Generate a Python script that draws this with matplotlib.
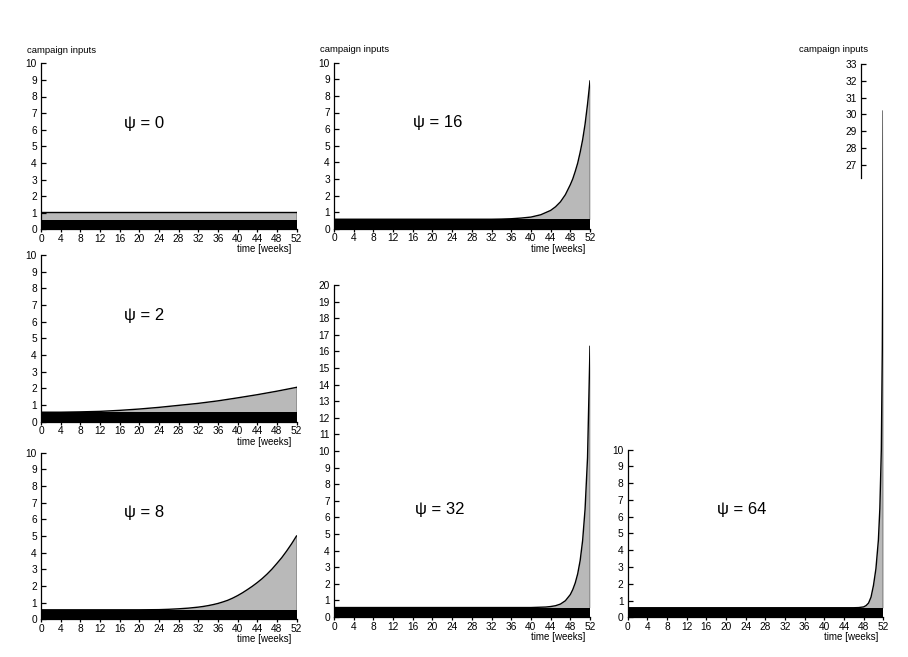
import numpy as np
import matplotlib.pyplot as plt

plt.rcParams['font.family'] = ['Liberation Sans', 'DejaVu Sans']

# time axis ticks
week_ticks = list(range(0, 53, 4))

# black base level of campaign inputs
base_level = 0.57

# campaign input curves, one per psi
weeks_psi0 = [0, 52]
u_psi0 = [1.05, 1.05]

weeks_psi2 = [0, 4, 8, 12, 16, 20, 24, 28, 32, 36, 40, 44, 48, 52]
u_psi2 = [0.57, 0.57, 0.59, 0.62, 0.68, 0.76, 0.86, 0.98, 1.1, 1.25, 1.43, 1.62, 1.83, 2.06]

weeks_psi8 = [0, 20, 24, 26, 28, 29, 30, 31, 32, 33, 34, 35, 36, 37, 38, 39, 40,
              41, 42, 43, 44, 45, 46, 47, 48, 49, 50, 51, 52]
u_psi8 = [0.57, 0.57, 0.58, 0.6, 0.63, 0.65, 0.67, 0.7, 0.73, 0.77, 0.82, 0.88, 0.95, 1.04, 1.14, 1.27, 1.42,
          1.59, 1.78, 1.98, 2.2, 2.44, 2.71, 3.01, 3.35, 3.7, 4.1, 4.53, 5.0]

weeks_psi16 = [0, 32, 34, 36, 38, 40, 42, 44, 45, 46, 47, 48, 48.5, 49, 49.5, 50, 50.5, 51, 51.5, 52]
u_psi16 = [0.57, 0.57, 0.58, 0.6, 0.64, 0.7, 0.84, 1.1, 1.32, 1.62, 2.05, 2.65, 3.0, 3.45, 3.95, 4.6,
           5.35, 6.3, 7.5, 8.9]

weeks_psi32 = [0, 40, 42, 43, 44, 45, 46, 47, 48, 48.5, 49, 49.5, 50, 50.5, 51, 51.5, 52]
u_psi32 = [0.57, 0.57, 0.59, 0.6, 0.63, 0.68, 0.78, 0.98, 1.35, 1.65, 2.05, 2.6, 3.4, 4.6, 6.5, 9.6, 16.3]

weeks_psi64 = [0, 46, 47, 48, 48.5, 49, 49.5, 50, 50.5, 51, 51.3, 51.6, 51.8, 51.9, 52]
u_psi64 = [0.57, 0.57, 0.58, 0.62, 0.7, 0.85, 1.2, 1.9, 2.9, 4.6, 6.5, 10, 16, 22, 30.2]

W, H = 908, 657
fig = plt.figure(figsize=(W / 100, H / 100), dpi=100)

TICK_SIZE = 7.3


def px_axes(left, top, right, bottom):
    # axes placed by pixel box
    return fig.add_axes([left / W, (H - bottom) / H, (right - left) / W, (bottom - top) / H])


def panel(ax, weeks, u, psi, ymax, ytop_ticks, label_top=True):
    ax.set_xlim(0, 52)
    ax.set_ylim(0, ymax)
    ax.fill_between(weeks, base_level, u, color='#b9b9b9', lw=0)
    ax.fill_between([0, 52], 0, base_level, color='black', lw=0)
    ax.plot(weeks, u, color='black', lw=1.0)
    ax.plot([52, 52], [0, u[-1]], color='black', lw=1.0)

    for s in ['top', 'right']:
        ax.spines[s].set_visible(False)
    ax.spines['left'].set_bounds(0, ytop_ticks)
    ax.spines['left'].set_linewidth(0.9)
    ax.spines['bottom'].set_linewidth(0.9)

    ax.set_yticks(range(0, ytop_ticks + 1))
    ax.set_xticks(week_ticks)
    ax.tick_params(axis='y', direction='in', length=3.6, width=0.9, pad=3, labelsize=TICK_SIZE)
    ax.tick_params(axis='x', direction='out', length=2.2, width=0.9, pad=1.2, labelsize=TICK_SIZE)

    ax.text(21, 6.4, 'ψ = %d' % psi, fontsize=12, ha='center', va='center')
    ax.annotate('time [weeks]', xy=(51, 0), xytext=(0, -14.3), textcoords='offset points',
                ha='right', va='center', fontsize=7)
    if label_top:
        ax.text(-2.85, 10.8, 'campaign inputs', fontsize=6.8, ha='left', va='center')


ax = px_axes(41, 63.3, 296.5, 229.3)
panel(ax, weeks_psi0, u_psi0, 0, 10, 10)

ax = px_axes(41, 255, 296.5, 421.7)
panel(ax, weeks_psi2, u_psi2, 2, 10, 10, label_top=False)

ax = px_axes(41, 452.7, 296.5, 619.3)
panel(ax, weeks_psi8, u_psi8, 8, 10, 10, label_top=False)

ax = px_axes(334, 62.7, 590, 228.7)
panel(ax, weeks_psi16, u_psi16, 16, 10, 10)

ax = px_axes(334, 285, 590, 617)
panel(ax, weeks_psi32, u_psi32, 32, 20, 20, label_top=False)
ax.texts[0].set_position((21.5, 6.45))

ax = px_axes(627.7, 64, 883.3, 617.3)
panel(ax, weeks_psi64, u_psi64, 64, 33, 10, label_top=False)
ax.texts[0].set_position((23.2, 6.45))
ax.text(49.0, 33.85, 'campaign inputs', fontsize=6.8, ha='right', va='center')

# upper part of the broken y axis for psi = 64
sec = ax.secondary_yaxis(47.5 / 52)
sec.set_alignment('left')
sec.set_yticks(range(27, 34))
sec.spines['left'].set_bounds(26.2, 33)
sec.spines['left'].set_linewidth(0.9)
sec.tick_params(axis='y', direction='in', length=3.6, width=0.9, pad=3, labelsize=TICK_SIZE)

fig.savefig('out.png', dpi=100)
